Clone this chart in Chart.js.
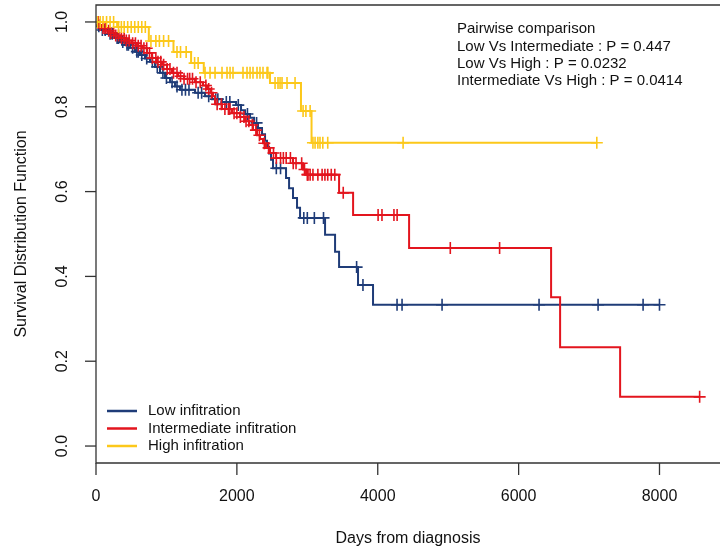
<!DOCTYPE html>
<html>
<head>
<meta charset="utf-8">
<script src="https://cdn.jsdelivr.net/npm/chart.js@4/dist/chart.umd.min.js"></script>
<style>
  html, body { margin: 0; padding: 0; background: #fff; }
  #wrap { width: 720px; height: 549px; position: relative; }
</style>
</head>
<body>
<div id="wrap"><canvas id="km"></canvas></div>
<script>
// Kaplan-Meier steps: [day, survival after that day]
const lowSteps = [
  [0, 1], [28, 0.99], [71, 0.981], [170, 0.972], [256, 0.962], [341, 0.953], [412, 0.946],
  [483, 0.939], [554, 0.93], [625, 0.922], [696, 0.914], [767, 0.906], [838, 0.894],
  [909, 0.88], [980, 0.868], [1051, 0.858], [1122, 0.848], [1193, 0.84], [1406, 0.833],
  [1548, 0.825], [1647, 0.818], [1789, 0.811], [1988, 0.804], [2059, 0.792], [2116, 0.783],
  [2187, 0.774], [2244, 0.762], [2300, 0.75], [2357, 0.735], [2400, 0.72], [2428, 0.705],
  [2457, 0.69], [2485, 0.675], [2513, 0.655], [2698, 0.632], [2741, 0.608], [2797, 0.585],
  [2854, 0.562], [2897, 0.538], [3252, 0.498], [3394, 0.458], [3451, 0.422], [3720, 0.38],
  [3933, 0.333]
];
const lowCensor = [
  40, 90, 130, 200, 230, 300, 320, 380, 440, 460, 520, 580, 600, 650, 720, 800, 870, 950,
  1000, 1080, 1150, 1220, 1270, 1320, 1450, 1500, 1600, 1700, 1730, 1850, 1900, 2020, 2150,
  2280, 2560, 2620, 2950, 3000, 3100, 3230, 3700, 3790, 4274, 4345, 4913, 6290, 7128, 7767, 8000
];

const midSteps = [
  [0, 1], [43, 0.993], [85, 0.986], [142, 0.979], [199, 0.974], [270, 0.968], [341, 0.962],
  [426, 0.956], [511, 0.95], [582, 0.944], [653, 0.938], [724, 0.927], [795, 0.915],
  [866, 0.906], [937, 0.899], [1008, 0.889], [1079, 0.88], [1164, 0.872], [1250, 0.866],
  [1406, 0.858], [1519, 0.85], [1576, 0.842], [1633, 0.833], [1661, 0.825], [1690, 0.806],
  [1789, 0.795], [1931, 0.785], [2045, 0.776], [2116, 0.766], [2173, 0.757], [2229, 0.745],
  [2286, 0.733], [2329, 0.724], [2371, 0.714], [2414, 0.703], [2471, 0.691], [2556, 0.679],
  [2797, 0.667], [2939, 0.652], [2982, 0.64], [3451, 0.597], [3650, 0.545], [4445, 0.467],
  [6461, 0.351], [6589, 0.233], [7441, 0.116]
];
const midCensor = [
  30, 60, 100, 130, 180, 210, 250, 280, 320, 360, 400, 430, 470, 520, 560, 600, 640, 680,
  720, 760, 800, 850, 880, 920, 960, 1010, 1050, 1100, 1150, 1200, 1250, 1300, 1330, 1370,
  1420, 1480, 1560, 1600, 1640, 1720, 1780, 1830, 1880, 1900, 1960, 2000, 2050, 2100, 2130,
  2170, 2220, 2270, 2320, 2390, 2450, 2520, 2560, 2620, 2660, 2700, 2760, 2800, 2840, 2920,
  2960, 3000, 3010, 3040, 3080, 3150, 3210, 3250, 3290, 3340, 3390, 3510, 4005, 4060, 4230,
  4275, 5030, 5730, 8570
];

const highSteps = [
  [0, 1], [300, 0.988], [750, 0.955], [1100, 0.929], [1350, 0.903], [1530, 0.88],
  [2470, 0.856], [2910, 0.79], [3060, 0.715]
];
const highCensor = [
  20, 60, 100, 150, 200, 250, 320, 360, 400, 450, 500, 550, 600, 650, 700, 780, 850, 900,
  960, 1030, 1150, 1200, 1280, 1400, 1450, 1548, 1619, 1690, 1789, 1860, 1903, 1945, 2087,
  2144, 2187, 2229, 2286, 2328, 2371, 2428, 2440, 2542, 2584, 2613, 2641, 2712, 2826, 2940,
  2980, 3040, 3080, 3110, 3150, 3180, 3220, 3290, 4360, 7110
];

const groupNames = ['Low infitration', 'Intermediate infitration', 'High infitration'];
const groupColors = ['#1f3c78', '#e3151e', '#fcc81a'];

const xTicks = [0, 2000, 4000, 6000, 8000];
const yTicks = [0, 0.2, 0.4, 0.6, 0.8, 1.0];

const pairwiseText = [
  'Pairwise comparison',
  'Low Vs Intermediate : P = 0.447',
  'Low Vs High : P = 0.0232',
  'Intermediate Vs High : P = 0.0414'
];

// survival value of a step curve at day t
function survAt(steps, t) {
  let s = 1;
  for (const [d, v] of steps) {
    if (d <= t) s = v; else break;
  }
  return s;
}

function curve(steps, censor) {
  const pts = steps.map(([d, v]) => ({ x: d, y: v }));
  const last = censor[censor.length - 1];
  pts.push({ x: last, y: survAt(steps, last) });
  return pts;
}

function marks(steps, censor) {
  return censor.map(d => ({ x: d, y: survAt(steps, d) }));
}

const groups = [
  [lowSteps, lowCensor],
  [midSteps, midCensor],
  [highSteps, highCensor]
];

const datasets = [];
groups.forEach(([steps, censor], i) => {
  datasets.push({
    type: 'line',
    label: groupNames[i],
    data: curve(steps, censor),
    stepped: 'before',
    borderColor: groupColors[i],
    borderWidth: 2,
    pointRadius: 0,
    fill: false,
    order: 6 - i * 2
  });
  datasets.push({
    type: 'scatter',
    label: groupNames[i] + ' censored',
    data: marks(steps, censor),
    showLine: false,
    pointStyle: 'cross',
    pointRadius: 6,
    borderColor: groupColors[i],
    borderWidth: 1.6,
    order: 5 - i * 2
  });
});

const FONT = '"Liberation Sans", Arial, sans-serif';

// R-style frame, axes, titles, legend and p-value text
const basePlot = {
  id: 'basePlot',
  afterDraw(chart) {
    const { ctx, chartArea: a, scales: { x, y } } = chart;
    ctx.save();
    ctx.strokeStyle = '#333';
    ctx.fillStyle = '#111';
    ctx.lineWidth = 1.3;

    ctx.beginPath();
    ctx.moveTo(a.right + 2, a.top);
    ctx.lineTo(a.left, a.top);
    ctx.lineTo(a.left, a.bottom);
    ctx.lineTo(a.right + 2, a.bottom);
    ctx.stroke();

    ctx.font = '16px ' + FONT;
    ctx.textAlign = 'center';
    ctx.textBaseline = 'middle';
    xTicks.forEach(v => {
      const px = x.getPixelForValue(v);
      ctx.beginPath();
      ctx.moveTo(px, a.bottom);
      ctx.lineTo(px, a.bottom + 12);
      ctx.stroke();
      ctx.fillText(String(v), px, 497);
    });

    yTicks.forEach(v => {
      const py = y.getPixelForValue(v);
      ctx.beginPath();
      ctx.moveTo(a.left, py);
      ctx.lineTo(a.left - 11, py);
      ctx.stroke();
      ctx.save();
      ctx.translate(63, py);
      ctx.rotate(-Math.PI / 2);
      ctx.fillText(v.toFixed(1), 0, 0);
      ctx.restore();
    });

    ctx.fillText('Days from diagnosis', (a.left + a.right) / 2, 539);
    ctx.save();
    ctx.translate(22, (a.top + a.bottom) / 2);
    ctx.rotate(-Math.PI / 2);
    ctx.fillText('Survival Distribution Function', 0, 0);
    ctx.restore();

    // legend, bottom left inside the plot
    ctx.font = '15px ' + FONT;
    ctx.textAlign = 'left';
    const lines = chart.data.datasets.filter(d => d.type === 'line');
    lines.forEach((d, i) => {
      const ly = 411 + i * 17.5;
      ctx.strokeStyle = d.borderColor;
      ctx.lineWidth = 2.5;
      ctx.beginPath();
      ctx.moveTo(107, ly);
      ctx.lineTo(137, ly);
      ctx.stroke();
      ctx.fillText(d.label, 148, ly);
    });

    pairwiseText.forEach((t, i) => {
      ctx.fillText(t, 457, 29 + i * 17.4);
    });
    ctx.restore();
  }
};

new Chart(document.getElementById('km'), {
  type: 'line',
  data: { datasets },
  options: {
    responsive: true,
    maintainAspectRatio: false,
    animation: false,
    layout: { autoPadding: false, padding: { left: 96, top: 5, right: 0, bottom: 86 } },
    scales: {
      x: { type: 'linear', min: 0, max: 8859, display: false },
      y: { type: 'linear', min: -0.04, max: 1.04, display: false }
    },
    plugins: {
      legend: { display: false },
      tooltip: { enabled: false }
    }
  },
  plugins: [basePlot]
});
</script>
</body>
</html>
